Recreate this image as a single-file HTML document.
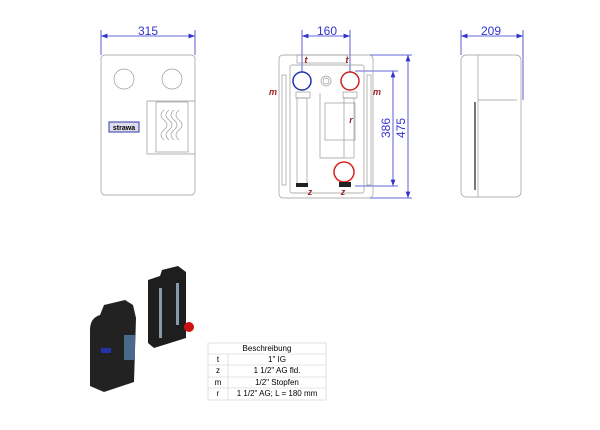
<!DOCTYPE html>
<html><head><meta charset="utf-8"><style>
body{margin:0;background:#fff;width:600px;height:425px;overflow:hidden;font-family:"Liberation Sans",sans-serif}
</style></head><body>
<svg width="600" height="425" xmlns="http://www.w3.org/2000/svg" font-family="Liberation Sans, sans-serif">
<defs><marker id="a" markerWidth="8" markerHeight="6" refX="8" refY="3" orient="auto-start-reverse"><path d="M0,0L8,3L0,6z" fill="#3333cc"/></marker></defs>
<g stroke="#3333cc" stroke-width="0.8" fill="none">
<line x1="101" y1="36" x2="195" y2="36" marker-start="url(#a)" marker-end="url(#a)"/>
<line x1="101" y1="30" x2="101" y2="55"/><line x1="195" y1="30" x2="195" y2="55"/>
<line x1="302" y1="36" x2="350" y2="36" marker-start="url(#a)" marker-end="url(#a)"/>
<line x1="302" y1="30" x2="302" y2="72"/><line x1="350" y1="30" x2="350" y2="72"/>
<line x1="393" y1="71" x2="393" y2="186" marker-start="url(#a)" marker-end="url(#a)"/>
<line x1="408" y1="55" x2="408" y2="198" marker-start="url(#a)" marker-end="url(#a)"/>
<line x1="355" y1="71" x2="398" y2="71"/><line x1="355" y1="186" x2="398" y2="186"/>
<line x1="370" y1="55" x2="412" y2="55"/><line x1="370" y1="198" x2="412" y2="198"/>
<line x1="461" y1="36" x2="523" y2="36" marker-start="url(#a)" marker-end="url(#a)"/>
<line x1="461" y1="30" x2="461" y2="55"/><line x1="523" y1="30" x2="523" y2="100"/>
</g>
<g fill="#3333cc" font-size="12" text-anchor="middle">
<text x="148" y="35">315</text><text x="327" y="35">160</text><text x="491" y="35">209</text>
<text transform="translate(390,128) rotate(-90)">386</text>
<text transform="translate(405,128) rotate(-90)">475</text>
</g>
<g stroke="#999" stroke-width="0.7" fill="none">
<rect x="101" y="55" width="94" height="140" rx="4"/>
<circle cx="124" cy="79" r="10"/><circle cx="172" cy="79" r="10"/>
<rect x="156" y="102" width="32" height="50"/><polyline points="195,101 147,101 147,154 195,154"/>
<path d="M164,110 q-6,5 0,10 q6,5 0,10 q-6,5 0,10 M169,110 q-6,5 0,10 q6,5 0,10 q-6,5 0,10 M174,110 q-6,5 0,10 q6,5 0,10 q-6,5 0,10 M179,110 q-6,5 0,10 q6,5 0,10 q-6,5 0,10"/>
<rect x="279" y="55" width="94" height="143" rx="4"/>
<rect x="290" y="65" width="74" height="128" rx="2"/>
<rect x="297" y="55" width="50" height="8"/>
<rect x="282" y="75" width="4" height="110"/><rect x="367" y="75" width="4" height="110"/>
<rect x="325" y="103" width="30" height="37"/>
<rect x="297" y="98" width="10" height="88"/><rect x="344" y="98" width="10" height="60"/>
<polyline points="320,93 320,158 344,158"/>
<circle cx="326" cy="81" r="3"/><circle cx="326" cy="81" r="5"/>
<rect x="296" y="92" width="14" height="6"/><rect x="343" y="92" width="14" height="6"/>
<rect x="461" y="55" width="60" height="142" rx="5"/>
<line x1="478" y1="55" x2="478" y2="197"/><line x1="478" y1="100" x2="517" y2="100"/>
</g>
<rect x="109" y="122" width="30" height="10" fill="#dde" stroke="#33a"/>
<text x="124" y="130" font-size="7" text-anchor="middle" fill="#000" font-weight="bold">strawa</text>
<rect x="474" y="102" width="2" height="88" fill="#777"/>
<circle cx="302" cy="81" r="9" fill="#fff" stroke="#2233aa" stroke-width="1.5"/>
<circle cx="350" cy="81" r="9" fill="#fff" stroke="#cc2222" stroke-width="1.5"/>
<circle cx="344" cy="172" r="10" fill="#fff" stroke="#dd2222" stroke-width="1.5"/>
<rect x="296" y="183" width="12" height="4" fill="#222"/><rect x="339" y="182" width="12" height="5" fill="#222"/>
<g fill="#992222" font-size="9" font-style="italic" font-weight="bold" text-anchor="middle">
<text x="306" y="63">t</text><text x="347" y="63">t</text><text x="273" y="95">m</text><text x="377" y="95">m</text>
<text x="351" y="123">r</text><text x="310" y="195">z</text><text x="343" y="195">z</text>
</g>
<path d="M90,330 Q90,318 100,315 L104,305 L125,300 L133,305 L136,318 L134,382 L104,392 L90,386Z" fill="#222"/>
<rect x="124" y="335" width="11" height="25" fill="#4a6a8a"/>
<rect x="101" y="348" width="10" height="5" fill="#2233aa"/>
<path d="M148,280 L160,276 L162,270 L178,266 L186,272 L186,338 L154,348 L148,343Z" fill="#1e1e1e"/>
<rect x="159" y="288" width="3" height="50" fill="#8899aa"/><rect x="176" y="283" width="3" height="42" fill="#8899aa"/>
<circle cx="189" cy="327" r="5" fill="#cc1111"/>
<g font-size="8" fill="#000" text-anchor="middle" stroke="none">
<rect x="208" y="343" width="118" height="57" fill="#fff" stroke="#ccc" stroke-width="0.6"/>
<g stroke="#ccc" stroke-width="0.6"><line x1="208" y1="354" x2="326" y2="354"/><line x1="208" y1="365" x2="326" y2="365"/><line x1="208" y1="377" x2="326" y2="377"/><line x1="208" y1="388" x2="326" y2="388"/><line x1="228" y1="354" x2="228" y2="400"/></g>
<text x="267" y="351">Beschreibung</text>
<text x="218" y="362">t</text><text x="277" y="362">1" IG</text>
<text x="218" y="373">z</text><text x="277" y="373">1 1/2" AG fld.</text>
<text x="218" y="385">m</text><text x="277" y="385">1/2" Stopfen</text>
<text x="218" y="396">r</text><text x="277" y="396">1 1/2" AG; L = 180 mm</text>
</g>
</svg>
</body></html>
